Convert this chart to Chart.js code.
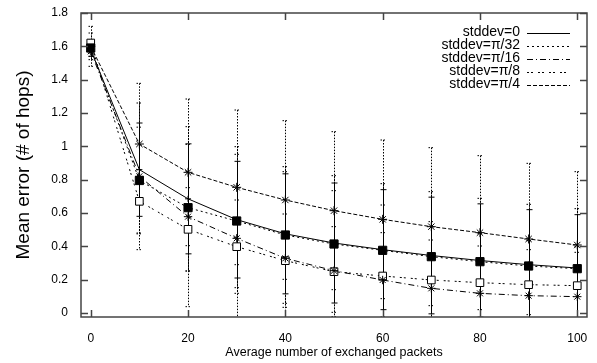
<!DOCTYPE html>
<html>
<head>
<meta charset="utf-8">
<script src="https://cdn.jsdelivr.net/npm/chart.js@4/dist/chart.umd.min.js"></script>
<style>
  html, body { margin: 0; padding: 0; background: #fff; }
</style>
</head>
<body>
<canvas id="errChart" width="597" height="363"></canvas>
<script>
// x values: average number of exchanged packets
const packets = [0, 10, 20, 30, 40, 50, 60, 70, 80, 90, 100];

// mean error (# of hops) for each stddev
const meanSd0  = [1.58, 0.86, 0.685, 0.56, 0.475, 0.42, 0.38, 0.345, 0.315, 0.29, 0.27];
const meanPi32 = [1.59, 0.795, 0.632, 0.552, 0.468, 0.414, 0.376, 0.338, 0.308, 0.282, 0.266];
const meanPi16 = [1.57, 0.82, 0.578, 0.448, 0.328, 0.254, 0.198, 0.148, 0.118, 0.104, 0.098];
const meanPi8  = [1.62, 0.67, 0.502, 0.398, 0.314, 0.248, 0.222, 0.198, 0.182, 0.17, 0.164];
const meanPi4  = [1.60, 1.014, 0.844, 0.754, 0.678, 0.614, 0.562, 0.518, 0.482, 0.444, 0.408];

// half length of the error bars
const errSd0  = [0.04, 0.28, 0.33, 0.35, 0.36, 0.36, 0.36, 0.35, 0.34, 0.33, 0.32];
const errPi32 = [0.05, 0.32, 0.38, 0.40, 0.41, 0.41, 0.40, 0.39, 0.38, 0.37, 0.36];
const errPi16 = [0.05, 0.44, 0.54, 0.55, 0.52, 0.48, 0.45, 0.40, 0.36, 0.33, 0.30];
const errPi8  = [0.06, 0.19, 0.25, 0.28, 0.28, 0.27, 0.26, 0.24, 0.22, 0.21, 0.20];
const errPi4  = [0.12, 0.364, 0.44, 0.464, 0.476, 0.474, 0.476, 0.474, 0.462, 0.454, 0.44];

const seriesNames = ['stddev=0', 'stddev=\u03c0/32', 'stddev=\u03c0/16', 'stddev=\u03c0/8', 'stddev=\u03c0/4'];
const xTickValues = [0, 20, 40, 60, 80, 100];
const yTickValues = [0, 0.2, 0.4, 0.6, 0.8, 1, 1.2, 1.4, 1.6, 1.8];

const means = [meanSd0, meanPi32, meanPi16, meanPi8, meanPi4];
const errs = [errSd0, errPi32, errPi16, errPi8, errPi4];

// gnuplot-like line styles
const dashes = [[], [2, 3], [6, 3, 1, 3], [2, 2, 2, 5], [4, 2]];
const pointStyles = ['cross', 'rect', 'star', 'rect', 'star'];
const pointSizes = [3, 5.8, 4.2, 5.4, 4.5];
const pointFills = ['#000', '#000', '#000', '#fff', '#000'];

const datasets = means.map((vals, i) => ({
    label: seriesNames[i],
    data: vals.map((v, j) => ({ x: packets[j], y: v })),
    borderColor: '#000',
    borderWidth: 1,
    borderDash: dashes[i],
    pointStyle: pointStyles[i],
    pointRadius: pointSizes[i],
    pointBackgroundColor: pointFills[i],
    pointBorderColor: '#000',
    pointBorderWidth: 1,
    tension: 0,
    fill: false
}));

// error bars drawn through the scales
const errorBars = {
    id: 'errorBars',
    beforeDatasetsDraw(chart) {
        const { ctx, chartArea: a, scales: { x, y } } = chart;
        ctx.save();
        ctx.beginPath();
        ctx.rect(a.left, a.top, a.right - a.left, a.bottom - a.top);
        ctx.clip();
        ctx.strokeStyle = '#000';
        ctx.lineWidth = 1;
        means.forEach((vals, i) => {
            ctx.setLineDash(dashes[i].length ? [1.5, 1.5] : []);
            vals.forEach((v, j) => {
                const px = Math.round(x.getPixelForValue(packets[j])) + 0.5;
                const top = y.getPixelForValue(v + errs[i][j]);
                const bot = y.getPixelForValue(v - errs[i][j]);
                ctx.beginPath();
                ctx.moveTo(px, top);
                ctx.lineTo(px, bot);
                ctx.moveTo(px - 3, top);
                ctx.lineTo(px + 3, top);
                ctx.moveTo(px - 3, bot);
                ctx.lineTo(px + 3, bot);
                ctx.stroke();
            });
        });
        ctx.restore();
    }
};

// frame with inward ticks on all four sides, plus legend
const frameAndLegend = {
    id: 'frameAndLegend',
    afterDraw(chart) {
        const { ctx, chartArea: a, scales: { x, y } } = chart;
        ctx.save();
        ctx.strokeStyle = '#444';
        ctx.lineWidth = 1.5;
        ctx.setLineDash([]);
        ctx.strokeRect(a.left, a.top, a.right - a.left, a.bottom - a.top);
        ctx.beginPath();
        xTickValues.forEach(v => {
            const px = Math.round(x.getPixelForValue(v)) + 0.5;
            ctx.moveTo(px, a.bottom); ctx.lineTo(px, a.bottom - 7);
            ctx.moveTo(px, a.top); ctx.lineTo(px, a.top + 7);
        });
        yTickValues.forEach(v => {
            const py = Math.round(y.getPixelForValue(v)) + 0.5;
            ctx.moveTo(a.left, py); ctx.lineTo(a.left + 7, py);
            ctx.moveTo(a.right, py); ctx.lineTo(a.right - 7, py);
        });
        ctx.stroke();

        // legend
        ctx.font = '14px "Liberation Sans", Arial, sans-serif';
        ctx.fillStyle = '#000';
        ctx.textAlign = 'right';
        ctx.textBaseline = 'middle';
        ctx.strokeStyle = '#000';
        ctx.lineWidth = 1;
        seriesNames.forEach((name, i) => {
            const ly = 32.5 + i * 13;
            ctx.fillText(name, 520, ly);
            ctx.setLineDash(dashes[i]);
            ctx.beginPath();
            ctx.moveTo(527, Math.round(ly) + 0.5);
            ctx.lineTo(570, Math.round(ly) + 0.5);
            ctx.stroke();
        });
        ctx.restore();
    }
};

const ctx = document.getElementById('errChart').getContext('2d');
const errChart = new Chart(ctx, {
    type: 'line',
    data: { datasets },
    options: {
        responsive: false,
        animation: false,
        devicePixelRatio: 1,
        layout: { padding: { left: 0, top: 13, right: 10, bottom: 0 } },
        plugins: { legend: { display: false }, tooltip: { enabled: false } },
        scales: {
            x: {
                type: 'linear',
                min: -2,
                max: 102,
                grid: { display: false },
                border: { display: false },
                afterBuildTicks: s => { s.ticks = xTickValues.map(v => ({ value: v })); },
                afterFit: s => { s.height = 46; },
                ticks: {
                    padding: 6,
                    color: '#000',
                    maxRotation: 0,
                    font: { family: '"Liberation Sans", Arial, sans-serif', size: 12 }
                },
                title: {
                    display: true,
                    text: 'Average number of exchanged packets',
                    color: '#000',
                    padding: { top: 0, bottom: 3 },
                    font: { family: '"Liberation Sans", Arial, sans-serif', size: 12.5 }
                }
            },
            y: {
                type: 'linear',
                min: -0.024,
                max: 1.8,
                grid: { display: false },
                border: { display: false },
                afterBuildTicks: s => { s.ticks = yTickValues.map(v => ({ value: v })); },
                afterFit: s => { s.width = 81; },
                ticks: {
                    padding: 5,
                    color: '#000',
                    callback: v => String(+v.toFixed(1)),
                    font: { family: '"Liberation Sans", Arial, sans-serif', size: 12 }
                },
                title: {
                    display: true,
                    text: 'Mean error (# of hops)',
                    color: '#000',
                    padding: { top: 12, bottom: 0 },
                    font: { family: '"Liberation Sans", Arial, sans-serif', size: 19 }
                }
            }
        }
    },
    plugins: [errorBars, frameAndLegend]
});
</script>
</body>
</html>
